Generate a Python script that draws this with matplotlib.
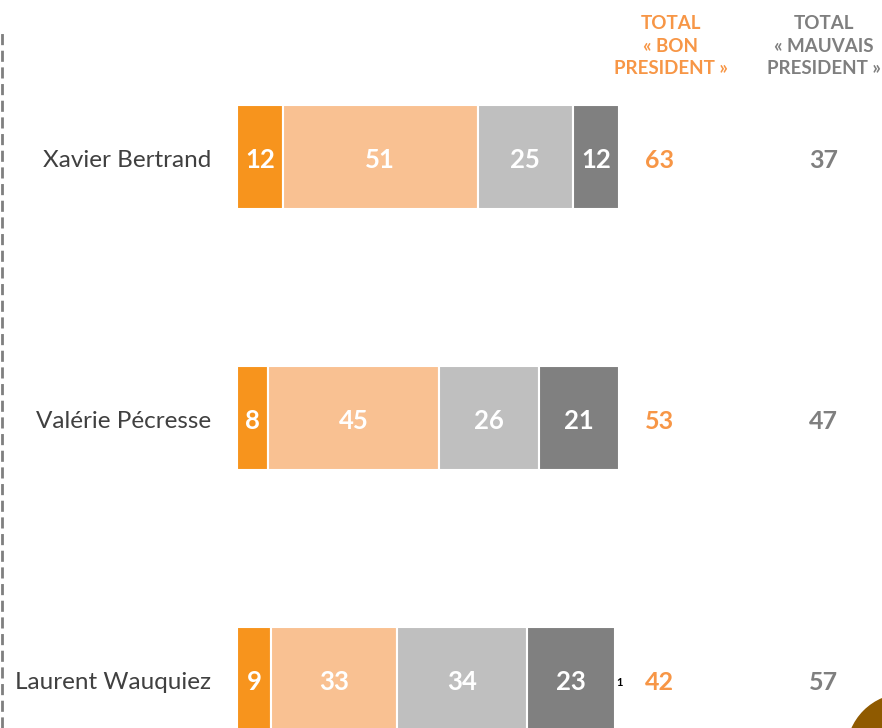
import matplotlib.pyplot as plt
from matplotlib.patches import Ellipse
from matplotlib.lines import Line2D

# data
names = ["Xavier Bertrand", "Valérie Pécresse", "Laurent Wauquiez"]
tres_bon = [12, 8, 9]
plutot_bon = [51, 45, 33]
plutot_mauvais = [25, 26, 34]
tres_mauvais = [12, 21, 23]
total_bon = [63, 53, 42]
total_mauvais = [37, 47, 57]
nsp = ["", "", "1"]

colors = ["#F7941D", "#F9C192", "#BFBFBF", "#808080"]
orange_txt = "#F79646"
gray_txt = "#7F7F7F"

plt.rcParams['font.family'] = ['Lato', 'DejaVu Sans']

fig = plt.figure(figsize=(8.82, 7.28), dpi=100)
ax = fig.add_axes([0, 0, 1, 1])
# 100 units = 382 px, bars start at px 237 ; rows 261 px apart, first at px 157
ax.set_xlim(-237 / 3.82, (882 - 237) / 3.82)
ax.set_ylim((728 - 157) / 261, -157 / 261)
ax.axis('off')

dy = 0.012  # small shift so text sits on the bar centre
rows = list(range(len(names)))
series = [tres_bon, plutot_bon, plutot_mauvais, tres_mauvais]
left = [0] * len(names)
for vals, c in zip(series, colors):
    ax.barh(rows, vals, left=left, height=0.4, color=c, edgecolor='white', linewidth=1.5)
    for i, v in enumerate(vals):
        ax.text(left[i] + v / 2, i + dy, str(v), ha='center', va='center',
                color='white', fontsize=18.5, fontweight='bold')
    left = [l + v for l, v in zip(left, vals)]

for i, name in enumerate(names):
    ax.text(-6.8, i + dy, name, ha='right', va='center', color='#404040', fontsize=17.5)
    ax.text(110.7, i + dy, str(total_bon[i]), ha='center', va='center',
            color=orange_txt, fontsize=18, fontweight='bold')
    ax.text(153.6, i + dy, str(total_mauvais[i]), ha='center', va='center',
            color=gray_txt, fontsize=18, fontweight='bold')
    if nsp[i]:
        ax.text(left[i] + 0.4, i + dy, nsp[i], ha='left', va='center',
                color='black', fontsize=8, fontweight='bold')

ax.text(113.6, -0.425, "TOTAL\n« BON\nPRESIDENT »", ha='center', va='center',
        color=orange_txt, fontsize=13.5, fontweight='bold', linespacing=1.4)
ax.text(153.6, -0.425, "TOTAL\n« MAUVAIS\nPRESIDENT »", ha='center', va='center',
        color=gray_txt, fontsize=13.5, fontweight='bold', linespacing=1.4)

# dashed left border and corner decoration
fig.add_artist(Line2D([2 / 882, 2 / 882], [0, 1 - 30 / 728], transform=fig.transFigure,
                      color='#7F7F7F', linewidth=2, linestyle=(0, (4, 2))))
fig.add_artist(Ellipse((905 / 882, 1 - 752 / 728), 116 / 882, 116 / 728,
                       transform=fig.transFigure, color='#8F5A00'))

fig.savefig('out.png', dpi=100)
